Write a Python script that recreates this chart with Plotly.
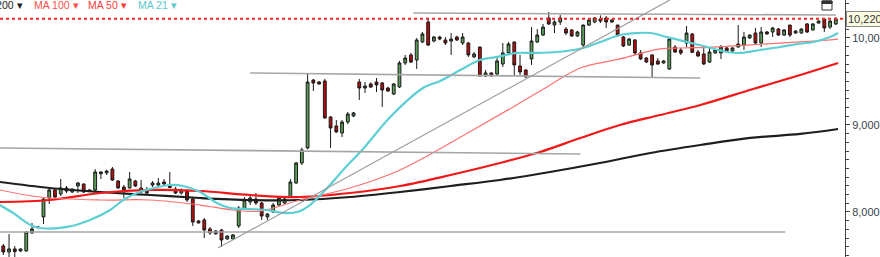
import plotly.graph_objects as go

# ---------------- data ----------------
opens = [7609, 7540, 7575, 7552, 7552, 7760, 7820, 7943, 8161, 8253,
         8207, 8276, 8230, 8299, 8322, 8253, 8253, 8460, 8450, 8494,
         8356, 8287, 8276, 8356, 8230, 8253, 8310, 8310, 8345, 8299,
         8264, 8218, 8241, 8149, 7897, 7908, 7805, 7782, 7793, 7690,
         7690, 7839, 8034, 8115, 8149, 8103, 7943, 8000, 8080, 8103,
         8172, 8333, 8563, 8736, 9517, 9494, 9506, 9092, 8989, 8908,
         9034, 9103, 9494, 9425, 9471, 9494, 9483, 9425, 9356, 9437,
         9713, 9805, 9747, 9954, 10184, 9965, 10011, 9977, 9965, 10011,
         9942, 9942, 9782, 9896, 9563, 9598, 9586, 9701, 9828, 9954,
         9678, 9632, 9759, 9954, 10034, 10230, 10149, 10184, 10103, 10092,
         10023, 9919, 10149, 10184, 10218, 10230, 10184, 10149, 10011, 9919,
         9977, 9828, 9770, 9805, 9736, 9713, 9644, 9896, 9862, 9942,
         10046, 9839, 9816, 9724, 9828, 9828, 9885, 9851, 9896, 9919,
         10000, 10057, 9942, 10069, 10069, 10103, 10034, 10149, 10057, 10057,
         10161, 10092, 10172, 10218, 10126, 10161]
highs = [7632, 7747, 7609, 7580, 7782, 7874, 7835, 8161, 8264, 8264,
         8379, 8299, 8270, 8345, 8325, 8260, 8494, 8465, 8485, 8517,
         8368, 8310, 8460, 8368, 8368, 8287, 8356, 8390, 8379, 8460,
         8287, 8270, 8264, 8172, 7905, 7931, 7828, 7790, 7805, 7730,
         7745, 8069, 8172, 8184, 8218, 8115, 7985, 8103, 8172, 8172,
         8379, 8575, 8740, 9598, 9529, 9505, 9529, 9103, 9057, 9057,
         9150, 9150, 9529, 9494, 9490, 9540, 9494, 9440, 9483, 9736,
         9805, 9828, 10000, 10069, 10218, 10023, 10025, 10011, 10057, 10025,
         10057, 9954, 9839, 9900, 9632, 9605, 9770, 9942, 9954, 9960,
         9805, 9640, 10126, 10103, 10161, 10299, 10207, 10264, 10126, 10103,
         10080, 10155, 10218, 10240, 10260, 10253, 10215, 10150, 10023, 10000,
         9988, 9862, 9782, 9810, 9770, 9745, 9990, 9919, 9885, 10138,
         10057, 9862, 9896, 9896, 9870, 9919, 9900, 9895, 10149, 10069,
         10040, 10115, 10126, 10080, 10126, 10115, 10100, 10150, 10090, 10110,
         10172, 10170, 10200, 10230, 10207, 10240]
lows = [7506, 7483, 7483, 7540, 7545, 7747, 7815, 7862, 8092, 8161,
        8184, 8218, 8220, 8218, 8218, 8225, 8241, 8379, 8425, 8356,
        8264, 8161, 8270, 8287, 8218, 8195, 8287, 8299, 8310, 8276,
        8207, 8200, 8115, 7839, 7868, 7701, 7736, 7740, 7598, 7680,
        7685, 7816, 8023, 8080, 8080, 7908, 7908, 7990, 8069, 8092,
        8165, 8325, 8540, 8720, 9391, 9465, 9075, 8736, 8908, 8862,
        9010, 9090, 9287, 9368, 9425, 9379, 9207, 9380, 9345, 9425,
        9690, 9713, 9644, 9942, 9908, 9950, 9975, 9919, 9805, 9965,
        9919, 9782, 9770, 9560, 9552, 9555, 9563, 9667, 9805, 9563,
        9575, 9545, 9690, 9942, 10023, 10149, 10057, 10149, 10034, 10011,
        10011, 9896, 10138, 10170, 10172, 10115, 10175, 10011, 9896, 9910,
        9805, 9747, 9713, 9552, 9690, 9705, 9632, 9828, 9805, 9896,
        9828, 9782, 9690, 9713, 9820, 9759, 9845, 9840, 9890, 9862,
        9990, 9919, 9896, 10040, 10011, 10023, 10025, 10011, 10050, 10050,
        10057, 10085, 10165, 10069, 10103, 10149]
closes = [7540, 7575, 7545, 7575, 7770, 7805, 7828, 8149, 8253, 8172,
          8276, 8241, 8264, 8333, 8230, 8235, 8460, 8440, 8471, 8368,
          8276, 8253, 8379, 8299, 8276, 8218, 8333, 8333, 8322, 8280,
          8218, 8253, 8138, 7885, 7874, 7793, 7759, 7750, 7678, 7724,
          7736, 8046, 8138, 8161, 8103, 7954, 7977, 8080, 8161, 8149,
          8345, 8563, 8713, 9494, 9483, 9471, 9080, 8966, 8920, 9034,
          9126, 9138, 9425, 9448, 9437, 9460, 9402, 9391, 9471, 9713,
          9770, 9724, 9977, 10046, 9919, 10011, 9988, 9942, 9988, 9977,
          10011, 9805, 9816, 9563, 9598, 9563, 9736, 9828, 9931, 9690,
          9609, 9552, 9965, 10034, 10126, 10161, 10184, 10230, 10057, 10023,
          10069, 10149, 10207, 10230, 10195, 10184, 10207, 10034, 9908, 9988,
          9828, 9759, 9724, 9690, 9701, 9736, 9988, 9839, 9828, 10057,
          9835, 9793, 9701, 9839, 9862, 9896, 9851, 9885, 9931, 10011,
          10034, 9942, 10069, 10046, 10115, 10034, 10092, 10034, 10080, 10103,
          10069, 10161, 10195, 10115, 10195, 10220]

# moving averages, sampled along the chart (candle index, price)
ma21_idx = [-0.6, 1.7, 4.7, 6.4, 11.1, 15.1, 18.6, 20.9, 23.3, 25.6, 29.0, 31.3, 34.3,
            37.2, 39.5, 43.0, 45.9, 48.7, 51.2, 53.4, 56.9, 59.5, 62.5, 67.4, 73.1,
            76.1, 79.6, 83.0, 86.0, 89.5, 92.3, 96.5, 101.0, 104.0, 107.4, 110.4,
            112.7, 115.6, 119.1, 122.6, 126.1, 128.3, 131.8, 135.3, 138.3, 141.1,
            144.0, 145.4]
ma21_val = [8080, 7989, 7851, 7816, 7828, 7908, 8023, 8138, 8218, 8264, 8310, 8299, 8230,
            8103, 8046, 8034, 8023, 7989, 8000, 8080, 8310, 8506, 8713, 9092, 9425,
            9506, 9632, 9747, 9782, 9828, 9828, 9839, 9885, 9954, 10034, 10057,
            10057, 10011, 9954, 9896, 9839, 9828, 9862, 9896, 9931, 9954,
            10011, 10057]
ma50_idx = [-0.6, 6.4, 16.9, 25.6, 34.3, 40.0, 44.7, 51.7, 60.4, 69.1, 81.8, 88.8,
            94.7, 100.5, 107.4, 114.4, 117.9, 123.6, 129.6, 135.3, 141.1, 145.4]
ma50_val = [8253, 8172, 8138, 8138, 8080, 8023, 8011, 8138, 8276, 8483, 8943, 9207,
            9437, 9655, 9759, 9874, 9885, 9896, 9919, 9942, 9965, 9988]
ma100_idx = [-0.6, 8.1, 16.9, 25.6, 34.3, 43.0, 51.7, 60.4, 69.1, 77.9, 86.5, 93.5,
             100.5, 107.4, 114.4, 121.4, 130.6, 138.8, 145.4]
ma100_val = [8115, 8138, 8218, 8253, 8241, 8195, 8172, 8218, 8299, 8425, 8563, 8690,
             8850, 9000, 9115, 9230, 9414, 9575, 9713]
ma200_idx = [-0.6, 8.1, 16.9, 25.6, 34.3, 43.0, 51.7, 60.4, 69.1, 77.9, 86.5, 95.2,
             103.9, 112.7, 121.4, 130.1, 138.8, 145.4]
ma200_val = [8345, 8276, 8230, 8195, 8161, 8138, 8138, 8172, 8230, 8299, 8368, 8460,
             8563, 8678, 8770, 8851, 8897, 8954]

# drawn support / resistance / trend lines: (start idx, start price, end idx, end price)
drawn_lines = [
    (71.4, 10287, 145.0, 10264),
    (43.0, 9598, 121.4, 9540),
    (-0.6, 8736, 100.5, 8667),
    (-0.6, 7770, 136.2, 7770),
    (37.4, 7586, 116.1, 10437),
]
last_price = 10220
tick_vals = [8000, 9000, 10000]
tick_text = ["8,000.00", "9,000.00", "10,000.00"]
legend_items = ["MA 200", "MA 100", "MA 50", "MA 21"]
legend_colors = ["#222222", "#ff4d4d", "#ff3b3b", "#5cc8d0"]

# ---------------- figure ----------------
x_idx = list(range(len(opens)))
fig = go.Figure()
fig.add_trace(go.Candlestick(
    x=x_idx, open=opens, high=highs, low=lows, close=closes,
    increasing=dict(fillcolor="#5a9e5a", line=dict(color="#1a1a1a", width=1)),
    decreasing=dict(fillcolor="#b50d0d", line=dict(color="#1a1a1a", width=1)),
    whiskerwidth=0, showlegend=False, hoverinfo="skip"))

for xs, ys, col, w in [(ma200_idx, ma200_val, "#1e1e1e", 2.2),
                       (ma100_idx, ma100_val, "#f01818", 2.2),
                       (ma50_idx, ma50_val, "#ff7070", 1.2),
                       (ma21_idx, ma21_val, "#5ccfd4", 2.2)]:
    fig.add_trace(go.Scatter(x=xs, y=ys, mode="lines",
                             line=dict(color=col, width=w, shape="spline", smoothing=1.0),
                             showlegend=False, hoverinfo="skip"))

shapes = []
for i, (x0, y0, x1, y1) in enumerate(drawn_lines):
    shapes.append(dict(type="line", xref="x", yref="y", x0=x0, y0=y0, x1=x1, y1=y1,
                       line=dict(color="#a6a6a6" if i < 4 else "#9a9a9a",
                                 width=1.6 if i < 4 else 1.1)))
# last price dotted line
shapes.append(dict(type="line", xref="paper", yref="y", x0=0, x1=1,
                   y0=last_price, y1=last_price,
                   line=dict(color="#ff2020", width=2, dash="dot")))
# small window icon top right
shapes.append(dict(type="rect", xref="paper", yref="paper",
                   x0=822 / 845, x1=832 / 845, y0=1 - 10 / 257, y1=1 - 1 / 257,
                   line=dict(color="#333", width=1), fillcolor="white"))
shapes.append(dict(type="rect", xref="paper", yref="paper",
                   x0=822 / 845, x1=832 / 845, y0=1 - 3.5 / 257, y1=1 - 1 / 257,
                   line=dict(color="#333", width=1), fillcolor="#333"))

annotations = []
# legend line across the top (first item runs off the left edge)
leg_pos = [(25, "right"), (32, "left"), (86, "left"), (136, "left")]
for (px, anc), txt, col in zip(leg_pos, legend_items, legend_colors):
    annotations.append(dict(xref="paper", yref="paper", x=px / 845, y=1 - 4.5 / 257,
                            xanchor=anc, yanchor="middle", showarrow=False,
                            text=txt + " \u25be", font=dict(color=col, size=10.5,
                                                             family="Liberation Sans, Arial")))
annotations.append(dict(xref="paper", yref="y", x=1, y=last_price, xanchor="left",
                        yanchor="middle", showarrow=False, xshift=1,
                        text="10,220.00", bgcolor="#fdfde3", bordercolor="#8a8a8a",
                        borderwidth=1, borderpad=1,
                        font=dict(color="#333", size=11, family="Liberation Sans, Arial")))

fig.update_layout(
    width=880, height=257,
    margin=dict(l=0, r=35, t=0, b=0, autoexpand=False),
    paper_bgcolor="white", plot_bgcolor="white",
    shapes=shapes, annotations=annotations,
    showlegend=False,
    xaxis=dict(range=[-0.575, 146.6], showgrid=False, zeroline=False, showline=False,
               showticklabels=False, ticks="", rangeslider=dict(visible=False),
               fixedrange=True, automargin=False),
    yaxis=dict(range=[7482.6, 10436.6], side="right", showgrid=False, zeroline=False,
               showline=True, linecolor="#444", linewidth=1,
               tickvals=tick_vals, ticktext=tick_text, ticks="outside", ticklen=4,
               tickcolor="#444", automargin=False,
               minor=dict(dtick=100, ticks="outside", ticklen=3, tickcolor="#444"),
               tickfont=dict(color="#3a3f4a", size=11, family="Liberation Sans, Arial"),
               fixedrange=True),
)
fig.write_html("out.html")
